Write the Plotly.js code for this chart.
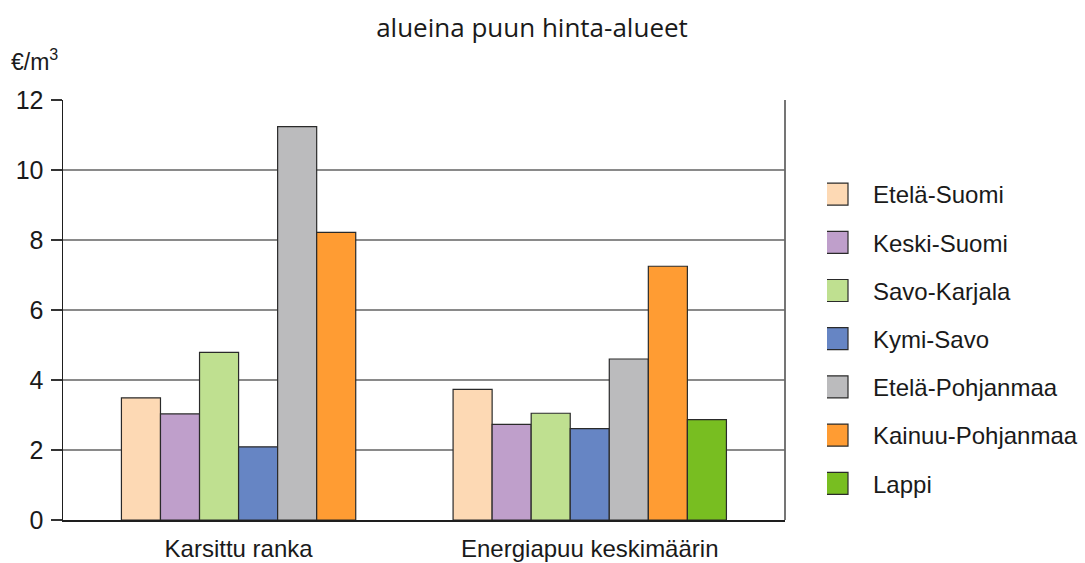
<!DOCTYPE html>
<html>
<head>
<meta charset="utf-8">
<script src="https://cdn.plot.ly/plotly-3.0.1.min.js"></script>
<style>html,body{margin:0;padding:0;background:#fff;}</style>
</head>
<body>
<div id="chart" style="width:1085px;height:563px;"></div>
<script>
// ---- data ----
const categories = ['Karsittu ranka', 'Energiapuu keskimäärin'];
const regions = ['Etelä-Suomi', 'Keski-Suomi', 'Savo-Karjala', 'Kymi-Savo', 'Etelä-Pohjanmaa', 'Kainuu-Pohjanmaa', 'Lappi'];
const eteläSuomi = [3.49, 3.73];
const keskiSuomi = [3.03, 2.73];
const savoKarjala = [4.79, 3.05];
const kymiSavo = [2.09, 2.61];
const eteläPohjanmaa = [11.24, 4.60];
const kainuuPohjanmaa = [8.22, 7.25];
const lappi = [null, 2.87];
const yTicks = [0, 2, 4, 6, 8, 10, 12];
const titleText = 'alueina puun hinta-alueet';
const unitText = '€/m<sup>3</sup>';

// ---- styles ----
const series = [eteläSuomi, keskiSuomi, savoKarjala, kymiSavo, eteläPohjanmaa, kainuuPohjanmaa, lappi];
const colors = ['#FDD9B4', '#BF9FCB', '#BFE090', '#6685C4', '#BBBBBD', '#FF9C33', '#78BE21'];
const FONT = '"Liberation Sans", Arial, sans-serif';
const FS = 24;
const barW = 0.1112;

const present = v => v !== null && v !== undefined;
const counts = categories.map((_, ci) => series.filter(s => present(s[ci])).length);

const traces = series.map((vals, i) => {
  const offsets = categories.map((_, ci) => {
    let idx = 0;
    for (let k = 0; k < i; k++) if (present(series[k][ci])) idx++;
    return (idx - counts[ci] / 2) * barW;
  });
  return {
    type: 'bar',
    name: regions[i],
    x: categories,
    y: vals,
    width: barW,
    offset: offsets,
    legendgroup: 'g' + i,
    marker: {color: colors[i], line: {color: '#2a2a2a', width: 1.2}},
    hoverinfo: 'x+y+name'
  };
});

const layout = {
  width: 1085,
  height: 563,
  barmode: 'overlay',
  paper_bgcolor: '#fff',
  plot_bgcolor: '#fff',
  margin: {l: 63, r: 300, t: 100, b: 43, pad: 0, autoexpand: false},
  font: {family: FONT, size: FS, color: '#1a1a1a'},
  title: {
    text: titleText,
    font: {family: '"Open Sans", sans-serif', size: 26, color: '#1a1a1a'},
    xref: 'container', x: 532 / 1085, xanchor: 'center',
    yref: 'container', y: 1 - 28 / 563, yanchor: 'middle'
  },
  xaxis: {
    type: 'category',
    range: [-0.5, 1.556],
    showline: true, linecolor: '#1e1e1e', linewidth: 1.5,
    ticks: '', showgrid: false, zeroline: false,
    ticklabelstandoff: 7,
    tickfont: {family: FONT, size: FS, color: '#1a1a1a'},
    fixedrange: true
  },
  yaxis: {
    range: [0, 12],
    tickvals: yTicks,
    ticktext: yTicks.map(String),
    showline: true, linecolor: '#1e1e1e', linewidth: 1.5,
    ticks: 'outside', ticklen: 11, tickwidth: 1.2, tickcolor: '#333',
    ticklabelstandoff: 2,
    showgrid: true, gridcolor: '#8a8a8a', gridwidth: 1.4,
    zeroline: false,
    tickfont: {family: FONT, size: 25, color: '#1a1a1a'},
    fixedrange: true
  },
  legend: {
    x: (827 - 63) / 722, xanchor: 'left', y: (520 - 172) / 420, yanchor: 'top',
    font: {family: FONT, size: FS, color: '#1a1a1a'},
    tracegroupgap: 14,
    traceorder: 'grouped',
    itemwidth: 36,
    bgcolor: 'rgba(0,0,0,0)',
    borderwidth: 0
  },
  shapes: [
    {type: 'line', xref: 'paper', yref: 'paper', x0: 1, x1: 1, y0: 0, y1: 1, line: {color: '#666', width: 1.8}}
  ],
  annotations: [
    {text: unitText, xref: 'paper', yref: 'paper', x: -54 / 722, xanchor: 'left',
     y: 1 + 40 / 420, yanchor: 'middle', showarrow: false,
     font: {family: FONT, size: 23, color: '#1a1a1a'}}
  ]
};

Plotly.newPlot('chart', traces, layout, {displayModeBar: false, staticPlot: true}).then(gd => {
  gd.querySelectorAll('.legend .legendpoints path').forEach(p => {
    p.setAttribute('d', 'M-2,11H-26V-11H-2Z');
  });
});
</script>
</body>
</html>
